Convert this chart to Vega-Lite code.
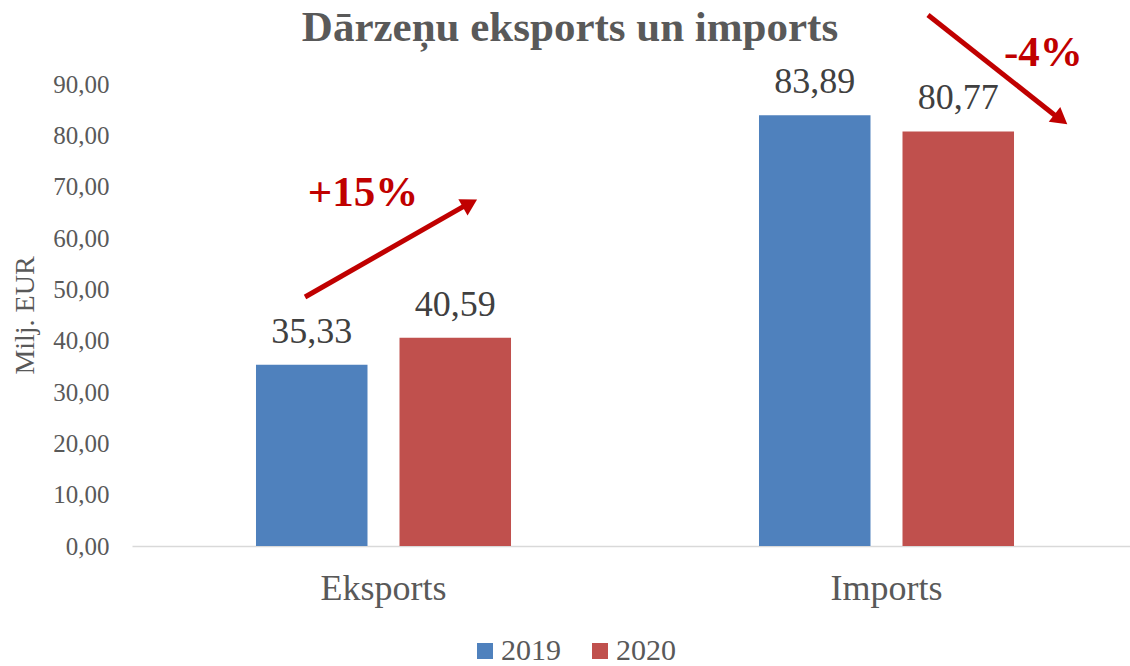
{
  "$schema": "https://vega.github.io/schema/vega-lite/v6.json",
  "width": 998,
  "height": 462,
  "autosize": {"type": "none"},
  "padding": {"left": 132, "top": 84, "right": 0, "bottom": 120},
  "background": "white",
  "title": {
    "text": "Dārzeņu eksports un imports",
    "font": "Liberation Serif",
    "fontSize": 43,
    "fontWeight": "bold",
    "color": "#595959",
    "anchor": "middle",
    "dx": -61,
    "dy": 102,
    "baseline": "alphabetic",
    "offset": 30
  },
  "config": {
    "locale": {"number": {"decimal": ",", "thousands": " ", "grouping": [3], "currency": ["", " €"]}},
    "view": {"stroke": null},
    "font": "Liberation Serif"
  },
  "encoding": {
    "y": {
      "field": "v",
      "type": "quantitative",
      "title": "Milj. EUR",
      "scale": {"domain": [0, 90], "nice": false, "zero": true},
      "axis": {
        "values": [0, 10, 20, 30, 40, 50, 60, 70, 80, 90],
        "format": ".2f",
        "domain": false,
        "ticks": false,
        "grid": false,
        "labelFont": "Liberation Serif",
        "labelFontSize": 25,
        "labelColor": "#595959",
        "labelPadding": 23,
        "titleFont": "Liberation Serif",
        "titleFontSize": 28,
        "titleFontWeight": "normal",
        "titleColor": "#595959",
        "titlePadding": 13
      }
    }
  },
  "layer": [
    {
      "data": {
        "values": [
          {"cat": "Eksports", "year": "2019", "v": 35.33},
          {"cat": "Eksports", "year": "2020", "v": 40.59},
          {"cat": "Imports", "year": "2019", "v": 83.89},
          {"cat": "Imports", "year": "2020", "v": 80.77}
        ]
      },
      "layer": [
        {"mark": {"type": "bar"}},
        {
          "mark": {"type": "text", "baseline": "alphabetic", "dy": -22, "fontSize": 36, "font": "Liberation Serif", "color": "#404040"},
          "encoding": {"text": {"field": "v", "type": "quantitative", "format": ".2f"}, "color": {"value": "#404040"}}
        }
      ],
      "encoding": {
        "x": {
          "field": "cat",
          "type": "nominal",
          "title": null,
          "scale": {"range": [0, 1006], "paddingInner": 0.493, "paddingOuter": 0.2465},
          "axis": {
            "labelAngle": 0,
            "labelFont": "Liberation Serif",
            "labelFontSize": 36,
            "labelColor": "#595959",
            "labelPadding": 25,
            "ticks": false,
            "domainColor": "#d9d9d9",
            "domainWidth": 1.5
          }
        },
        "xOffset": {"field": "year", "type": "nominal", "scale": {"paddingInner": 0.223, "paddingOuter": 0}},
        "color": {
          "field": "year",
          "type": "nominal",
          "scale": {"domain": ["2019", "2020"], "range": ["#4F81BD", "#C0504D"]},
          "legend": {
            "orient": "none",
            "legendX": 338,
            "legendY": 552,
            "direction": "horizontal",
            "title": null,
            "symbolType": "square",
            "symbolSize": 256,
            "symbolStrokeWidth": 0,
            "labelFont": "Liberation Serif",
            "labelFontSize": 30,
            "labelColor": "#595959",
            "labelOffset": 1,
            "columnPadding": 24
          }
        }
      }
    },
    {
      "data": {
        "values": [
          {"arrow": "up", "p": 0.344, "v": 48.51, "p2": 0.662, "v2": 66.3, "hp": 0.672, "hv": 66.74, "tp": 0.459, "tv": 66.2, "label": "+15%"},
          {"arrow": "down", "p": 1.5825, "v": 103.45, "p2": 1.839, "v2": 83.58, "hp": 1.8467, "hv": 83.11, "tp": 1.812, "tv": 93.6, "label": "-4%"}
        ]
      },
      "layer": [
        {
          "mark": {"type": "rule", "color": "#C00000", "strokeWidth": 5},
          "encoding": {
            "x": {"field": "p", "type": "quantitative", "scale": {"domain": [0, 2], "range": [0, 1006], "nice": false, "zero": false}, "axis": null},
            "x2": {"field": "p2"},
            "y2": {"field": "v2"}
          }
        },
        {
          "transform": [{"filter": "datum.arrow === 'up'"}],
          "mark": {"type": "point", "shape": "triangle-right", "filled": true, "color": "#C00000", "size": 350, "angle": -29.5, "opacity": 1},
          "encoding": {
            "x": {"field": "hp", "type": "quantitative", "scale": {"domain": [0, 2], "range": [0, 1006], "nice": false, "zero": false}, "axis": null},
            "y": {"field": "hv", "type": "quantitative"}
          }
        },
        {
          "transform": [{"filter": "datum.arrow === 'down'"}],
          "mark": {"type": "point", "shape": "triangle-right", "filled": true, "color": "#C00000", "size": 350, "angle": 38, "opacity": 1},
          "encoding": {
            "x": {"field": "hp", "type": "quantitative", "scale": {"domain": [0, 2], "range": [0, 1006], "nice": false, "zero": false}, "axis": null},
            "y": {"field": "hv", "type": "quantitative"}
          }
        },
        {
          "mark": {"type": "text", "font": "Liberation Serif", "fontSize": 43, "fontWeight": "bold", "color": "#C00000", "align": "center", "baseline": "alphabetic"},
          "encoding": {
            "x": {"field": "tp", "type": "quantitative", "scale": {"domain": [0, 2], "range": [0, 1006], "nice": false, "zero": false}, "axis": null},
            "y": {"field": "tv", "type": "quantitative"},
            "text": {"field": "label", "type": "nominal"}
          }
        }
      ]
    }
  ],
  "resolve": {"scale": {"x": "independent"}, "axis": {"x": "independent"}}
}
